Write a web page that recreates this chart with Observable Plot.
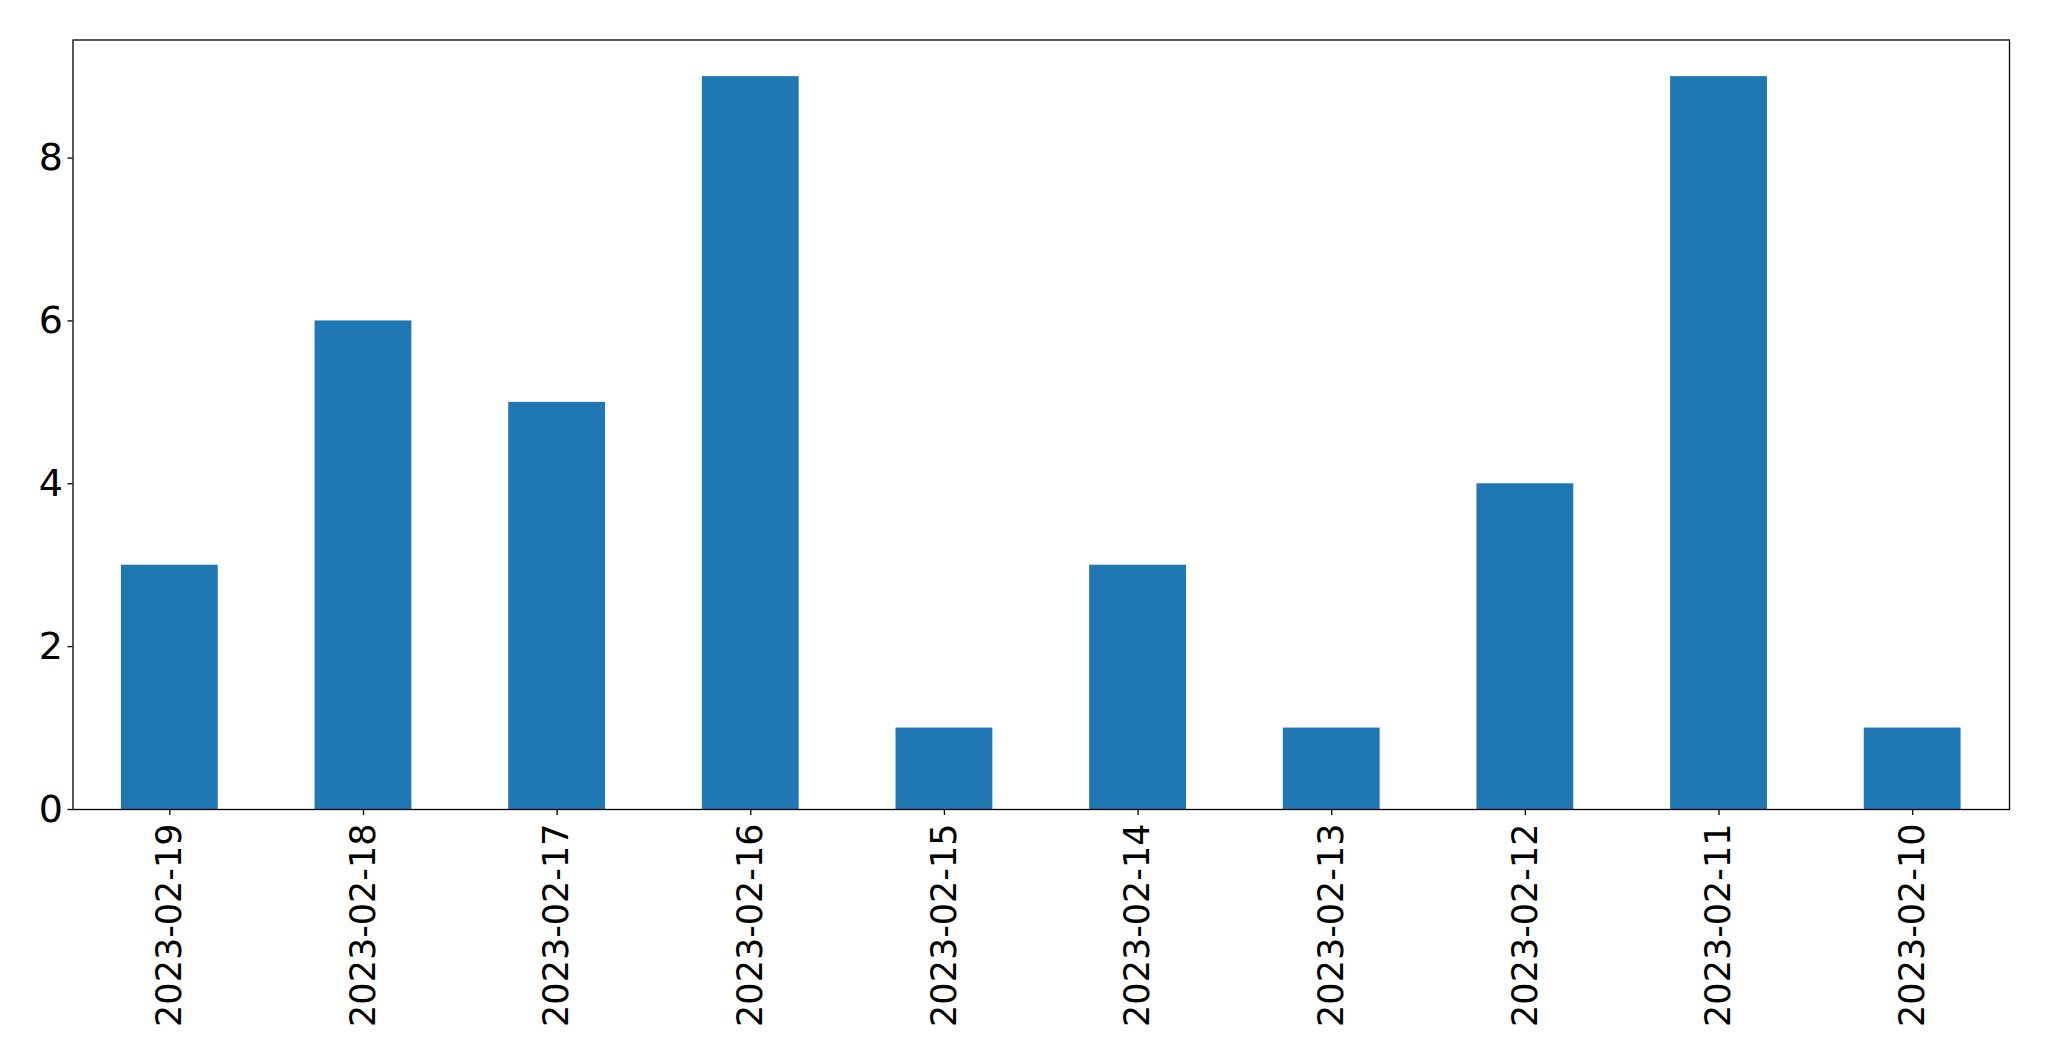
<!DOCTYPE html>
<html>
<head>
<meta charset="utf-8">
<script src="https://cdn.jsdelivr.net/npm/d3@7"></script>
<script src="https://cdn.jsdelivr.net/npm/@observablehq/plot@0.6"></script>
<style>
  html, body { margin: 0; padding: 0; background: #fff; }
  svg { display: block; }
</style>
</head>
<body>
<div id="chart"></div>
<script>
const dates = ["2023-02-19","2023-02-18","2023-02-17","2023-02-16","2023-02-15","2023-02-14","2023-02-13","2023-02-12","2023-02-11","2023-02-10"];
const counts = [3, 6, 5, 9, 1, 3, 1, 4, 9, 1];
const yTicks = [0, 2, 4, 6, 8];

const data = dates.map((d, i) => ({date: d, count: counts[i]}));

const chart = Plot.plot({
  width: 2049,
  height: 1061,
  marginLeft: 72.5,
  marginRight: 40,
  marginTop: 39.5,
  marginBottom: 252,
  style: {fontFamily: "DejaVu Sans", fontSize: "34px", color: "#000", background: "#fff"},
  x: {domain: dates, paddingInner: 0.5, paddingOuter: 0.25, round: false, label: null},
  y: {domain: [0, 9.45], label: null},
  marks: [
    Plot.barY(data, {x: "date", y: "count", fill: "#1f77b4", inset: 0}),
    Plot.frame({stroke: "#000", strokeWidth: 1.3}),
    Plot.axisY({ticks: yTicks, tickSize: 5, tickPadding: 5, label: null, tickFormat: d => String(d), strokeWidth: 1.3, fontSize: 38}),
    Plot.axisX({tickSize: 6, tickPadding: 8, tickRotate: -90, label: null, strokeWidth: 1.3, fontSize: 35})
  ]
});
document.getElementById("chart").appendChild(chart);
</script>
</body>
</html>
